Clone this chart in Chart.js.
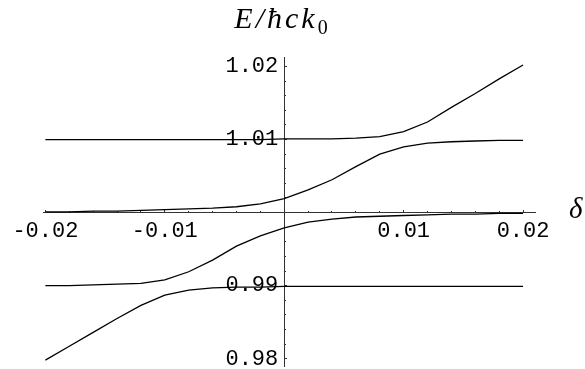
<!DOCTYPE html>
<html><head><meta charset="utf-8">
<script src="https://cdn.jsdelivr.net/npm/chart.js@4/dist/chart.umd.min.js"></script>
<style>html,body{margin:0;padding:0;background:#fff}#wrap{width:585px;height:369px}</style>
</head><body><div id="wrap"><canvas id="c" width="585" height="369"></canvas></div>
<script>
// detuning values (x)
const deltas = [-0.020,-0.018,-0.016,-0.014,-0.012,-0.010,-0.008,-0.006,-0.004,-0.002,0.000,
                 0.002,0.004,0.006,0.008,0.010,0.012,0.014,0.016,0.018,0.020];
// four energy branches E/ħck0
const branch1 = [1.0100,1.0100,1.0100,1.0100,1.0100,1.0100,1.0100,1.0100,1.0100,1.0100,1.0101,
                 1.0101,1.0101,1.0102,1.0104,1.0111,1.0124,1.0144,1.0163,1.0183,1.0202];
const branch2 = [1.0001,1.0001,1.0002,1.0002,1.0003,1.0004,1.0005,1.0006,1.0008,1.0012,1.0019,
                 1.0031,1.0045,1.0063,1.0080,1.0090,1.0095,1.0097,1.0098,1.0099,1.0099];
const branch3 = [0.9900,0.9900,0.9901,0.9902,0.9903,0.9908,0.9919,0.9935,0.9954,0.9968,0.9979,
                 0.9987,0.9991,0.9994,0.9995,0.9996,0.9997,0.9998,0.9998,0.9999,0.9999];
const branch4 = [0.9798,0.9817,0.9836,0.9855,0.9873,0.9887,0.9894,0.9897,0.9898,0.9898,0.9899,
                 0.9899,0.9899,0.9899,0.9899,0.9899,0.9899,0.9899,0.9899,0.9899,0.9899];
const xMajorStep = 0.01, xMinorStep = 0.002;
const yMajorStep = 0.01, yMinorStep = 0.002;
const titleMain = 'E/ħck';
const titleSub = '0';
const xName = 'δ';

const xMin = -0.0202, xMax = 0.021, yMin = 0.979, yMax = 1.0213;
const axisColor = '#333';
const tickFont = {family: '"Liberation Mono", "Courier New", monospace', size: 22, lineHeight: 0.2};

function mkSet(arr) {
  return {data: deltas.map((d, i) => ({x: d, y: arr[i]})), borderColor: '#000', borderWidth: 1.3,
          pointRadius: 0, fill: false, tension: 0};
}

const annot = {
  id: 'annot',
  afterDraw(chart) {
    const ctx = chart.ctx;
    ctx.save();
    ctx.fillStyle = '#000';
    ctx.textBaseline = 'alphabetic';
    ctx.textAlign = 'left';
    ctx.letterSpacing = '3px';
    ctx.font = 'italic 30px "Liberation Serif", serif';
    const w1 = ctx.measureText(titleMain).width;
    ctx.letterSpacing = '0px';
    ctx.font = '20px "Liberation Serif", serif';
    const w2 = ctx.measureText(titleSub).width;
    const x0 = 281 - (w1 + w2) / 2;
    ctx.letterSpacing = '3px';
    ctx.font = 'italic 30px "Liberation Serif", serif';
    ctx.fillText(titleMain, x0, 28);
    ctx.letterSpacing = '0px';
    ctx.font = '20px "Liberation Serif", serif';
    ctx.fillText(titleSub, x0 + w1, 34);
    ctx.font = 'italic 29px "Liberation Serif", serif';
    ctx.fillText(xName, 569, 218);
    ctx.restore();
  }
};

const fmt = v => Math.abs(v - 1) < 1e-9 || Math.abs(v) < 1e-9 ? '' : v.toFixed(2);

new Chart(document.getElementById('c'), {
  type: 'line',
  data: {datasets: [mkSet(branch1), mkSet(branch2), mkSet(branch3), mkSet(branch4)]},
  options: {
    responsive: false, animation: false, devicePixelRatio: 1,
    layout: {padding: {left: 43, right: 50, top: 57, bottom: 3}},
    plugins: {legend: {display: false}, tooltip: {enabled: false}, title: {display: false}},
    scales: {
      x: {type: 'linear', axis: 'x', position: {y: 1}, min: xMin, max: xMax,
          ticks: {stepSize: xMajorStep, includeBounds: false, autoSkip: false, maxRotation: 0,
                  color: '#000', font: {family: tickFont.family, size: 22}, padding: 8, callback: fmt},
          grid: {drawOnChartArea: false, tickLength: -3, color: axisColor},
          border: {color: axisColor, width: 1}},
      xm: {type: 'linear', axis: 'x', position: {y: 1}, min: xMin, max: xMax,
          ticks: {stepSize: xMinorStep, includeBounds: false, display: false},
          grid: {drawOnChartArea: false, tickLength: -2, color: axisColor},
          border: {display: false}},
      y: {type: 'linear', axis: 'y', position: {x: 0}, min: yMin, max: yMax,
          ticks: {stepSize: yMajorStep, includeBounds: false, display: false, padding: 0},
          grid: {drawOnChartArea: false, tickLength: -3, color: axisColor},
          border: {color: axisColor, width: 1}},
      ym: {type: 'linear', axis: 'y', position: {x: 0}, min: yMin, max: yMax,
          ticks: {stepSize: yMinorStep, includeBounds: false, display: false, padding: 0},
          grid: {drawOnChartArea: false, tickLength: -2, color: axisColor},
          border: {display: false}},
      yl: {type: 'linear', axis: 'y', position: {x: -0.0005}, min: yMin, max: yMax,
          ticks: {stepSize: yMajorStep, includeBounds: false, autoSkip: false, color: '#000',
                  font: tickFont, padding: 0, callback: fmt},
          grid: {display: false, drawOnChartArea: false, drawTicks: false},
          border: {display: false}}
    }
  },
  plugins: [annot]
});
</script></body></html>
